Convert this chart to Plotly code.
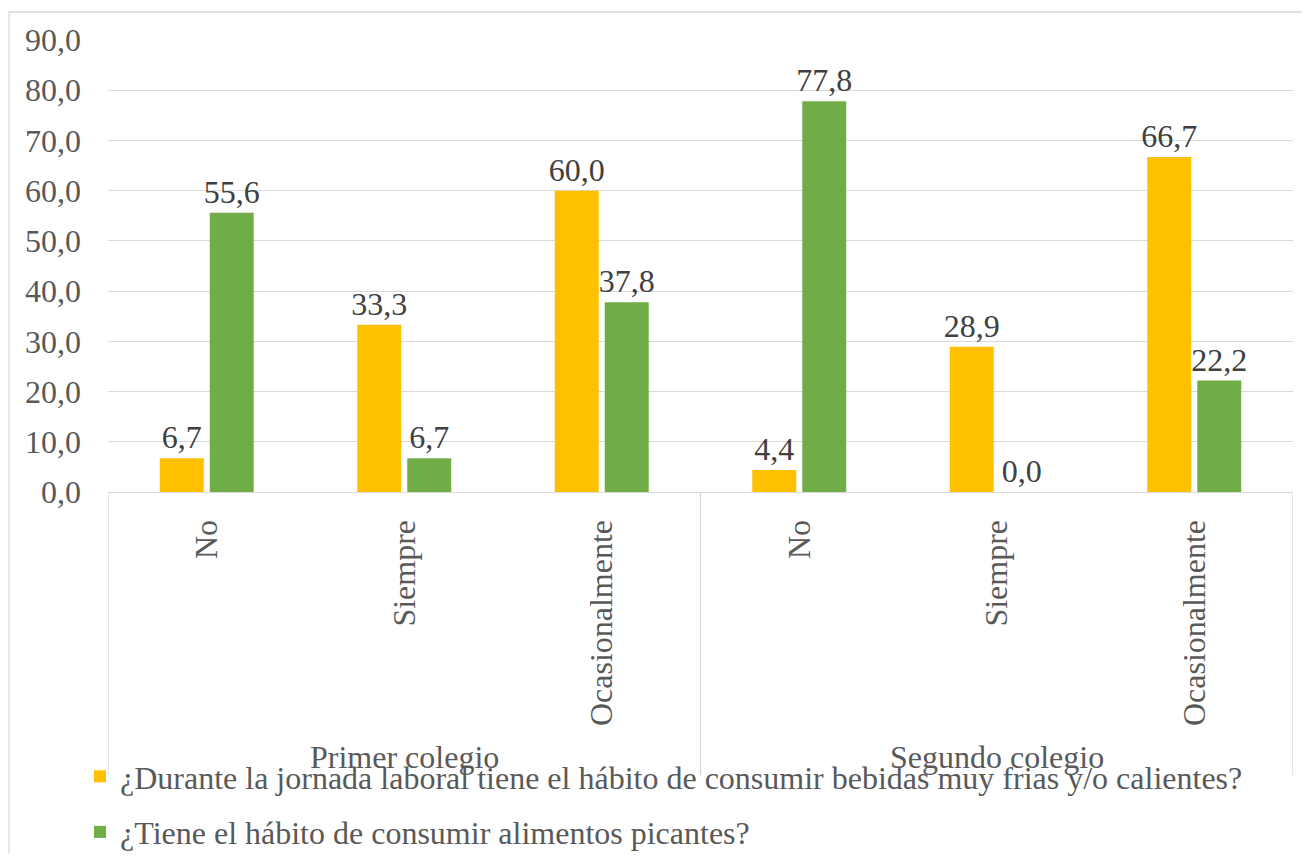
import plotly.graph_objects as go

groups = ["Primer colegio", "Segundo colegio"]
answers = ["No", "Siempre", "Ocasionalmente"]
series_names = [
    "¿Durante la jornada laboral tiene el hábito de consumir bebidas muy frias y/o calientes?",
    "¿Tiene el hábito de consumir alimentos picantes?",
]
bebidas = [6.7, 33.3, 60.0, 4.4, 28.9, 66.7]
picantes = [55.6, 6.7, 37.8, 77.8, 0.0, 22.2]
y_ticks = [0, 10, 20, 30, 40, 50, 60, 70, 80, 90]

colors = ["#FFC000", "#70AD47"]
FONT = "Liberation Serif"
FS = 32

cat_labels = [a for g in groups for a in answers]
xpos = list(range(len(cat_labels)))

# plot area in reference pixels: left 108, right 1293, top 40, bottom 492
PW, PH = 1185, 452

fig = go.Figure()
for i, (name, vals) in enumerate(zip(series_names, [bebidas, picantes])):
    fig.add_trace(go.Bar(
        x=xpos, y=vals, name=name, marker_color=colors[i],
        marker_line_width=0,
        texttemplate="%{y:.1f}", textposition="outside", constraintext="none",
        textfont=dict(family=FONT, size=FS, color="#404040"),
        cliponaxis=False, legendgroup=str(i),
    ))

n_per = len(answers)
shapes = []
for k in range(len(groups) + 1):
    xb = k * n_per - 0.5
    shapes.append(dict(type="line", xref="x", yref="paper", x0=xb, x1=xb,
                       y0=0, y1=(492 - 775) / PH, line=dict(color="#d9d9d9", width=1.3)))
# chart border
shapes.append(dict(type="rect", xref="paper", yref="paper",
                   x0=(9 - 108) / PW, x1=1.05, y0=-0.95, y1=(492 - 12) / PH,
                   line=dict(color="#d9d9d9", width=1.3), layer="below"))

annotations = []
for gi, g in enumerate(groups):
    annotations.append(dict(x=gi * n_per + (n_per - 1) / 2, xref="x",
                            y=(492 - 757) / PH, yref="paper", text=g,
                            showarrow=False, yanchor="middle",
                            font=dict(family=FONT, size=FS, color="#595959")))

fig.update_layout(
    width=1294, height=845,
    margin=dict(l=100, r=9, t=32, b=361, autoexpand=False),
    paper_bgcolor="white", plot_bgcolor="white",
    separators=",.",
    barmode="group", bargap=0.494, bargroupgap=0.12,
    font=dict(family=FONT, size=FS, color="#595959"),
    shapes=shapes, annotations=annotations,
    legend=dict(orientation="v", x=(80 - 108) / PW, xanchor="left",
                y=(492 - 749) / PH, yanchor="top",
                font=dict(family=FONT, size=FS, color="#595959"),
                tracegroupgap=11, bgcolor="rgba(0,0,0,0)"),
    showlegend=True,
)
fig.update_xaxes(range=[-0.5, len(cat_labels) - 0.5], tickmode="array",
                 tickvals=xpos, ticktext=cat_labels, tickangle=-90,
                 showgrid=False, showline=True, linecolor="#d9d9d9", linewidth=1.3,
                 ticks="", ticklabelstandoff=14, automargin=False,
                 tickfont=dict(family=FONT, size=FS, color="#595959"))
fig.update_yaxes(range=[0, 90], tickmode="array", tickvals=y_ticks,
                 tickformat=".1f", showgrid=True, gridcolor="#d9d9d9", gridwidth=1.3,
                 zeroline=False, showline=False, ticks="", ticklabelstandoff=26,
                 automargin=False,
                 tickfont=dict(family=FONT, size=FS, color="#595959"))

fig.write_html("out.html")
